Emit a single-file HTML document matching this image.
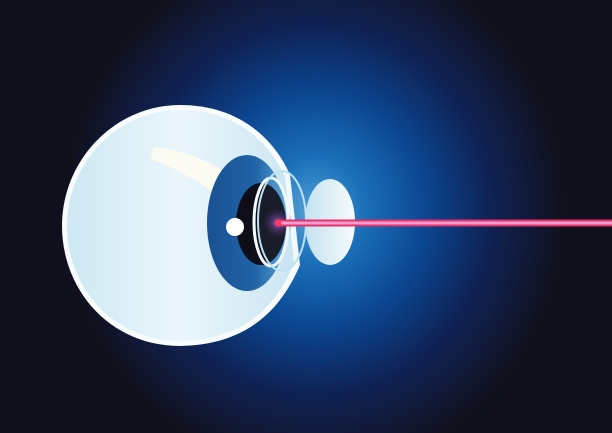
<!DOCTYPE html>
<html><head><meta charset="utf-8"><style>html,body{margin:0;padding:0;background:#10111c}svg{display:block}</style></head>
<body>
<svg width="612" height="433" viewBox="0 0 612 433" xmlns="http://www.w3.org/2000/svg">
<defs>
<radialGradient id="bg" cx="315" cy="210" r="250" gradientUnits="userSpaceOnUse" gradientTransform="translate(315 210) scale(1 1.05) translate(-315 -210)">
<stop offset="0" stop-color="#4e9ed8"/>
<stop offset="0.2" stop-color="#1a6fb8"/>
<stop offset="0.45" stop-color="#0b4590"/>
<stop offset="0.7" stop-color="#0f2255"/>
<stop offset="0.9" stop-color="#111630"/>
<stop offset="1" stop-color="#10111c"/>
</radialGradient>
<linearGradient id="ball" x1="0" y1="0" x2="1" y2="0">
<stop offset="0" stop-color="#cfe8f3"/>
<stop offset="0.5" stop-color="#eaf6fb"/>
<stop offset="1" stop-color="#cde6f2"/>
</linearGradient>
<linearGradient id="iris" x1="0" y1="0" x2="1" y2="0">
<stop offset="0" stop-color="#1a5192"/>
<stop offset="0.6" stop-color="#1f63a6"/>
<stop offset="1" stop-color="#5ba3d6"/>
</linearGradient>
<radialGradient id="glow" cx="278" cy="223" r="16" gradientUnits="userSpaceOnUse">
<stop offset="0" stop-color="#a050c8"/>
<stop offset="1" stop-color="#1a1030" stop-opacity="0"/>
</radialGradient>
<linearGradient id="lens2" x1="0" y1="0" x2="1" y2="0">
<stop offset="0" stop-color="#c4e2f0"/>
<stop offset="1" stop-color="#f6fbfd"/>
</linearGradient>
</defs>
<rect width="612" height="433" fill="url(#bg)"/>
<g>
<path d="M180 105 C240 105 275 140 290 175 L300 265 C285 300 255 345 180 346 C110 346 62 290 62 226 C62 160 115 105 180 105 Z" fill="#f8fcfd"/>
<path d="M180 110 C237 110 270 143 285 177 L294 263 C280 297 252 340 180 341 C114 341 67 288 67 226 C67 163 117 110 180 110 Z" fill="url(#ball)"/>
</g>
<path d="M153 147 C185 150 215 163 231 177 L229 207 C214 190 185 172 151 159 Z" fill="#fbfbf2"/>
<ellipse cx="247" cy="223" rx="40" ry="68" fill="url(#iris)"/>
<ellipse cx="261" cy="224" rx="25" ry="41" fill="#0e0d18"/>
<ellipse cx="278" cy="223" rx="14" ry="18" fill="url(#glow)"/>
<circle cx="235" cy="227" r="9" fill="#ffffff"/>
<ellipse cx="271" cy="222" rx="17" ry="44" fill="none" stroke="#f4fbff" stroke-width="3"/>
<ellipse cx="282" cy="221" rx="24" ry="50" fill="#a8d4ee" fill-opacity="0.08" stroke="#bfe2f3" stroke-width="2"/>
<ellipse cx="330" cy="222" rx="25" ry="43" fill="url(#lens2)"/>
<rect x="277" y="219.5" width="335" height="7" fill="#e8306a"/>
<rect x="279" y="221.5" width="333" height="3" fill="#f0a0d0"/>
<circle cx="278" cy="223" r="3.5" fill="#ff3a6a"/>
</svg>
</body></html>
